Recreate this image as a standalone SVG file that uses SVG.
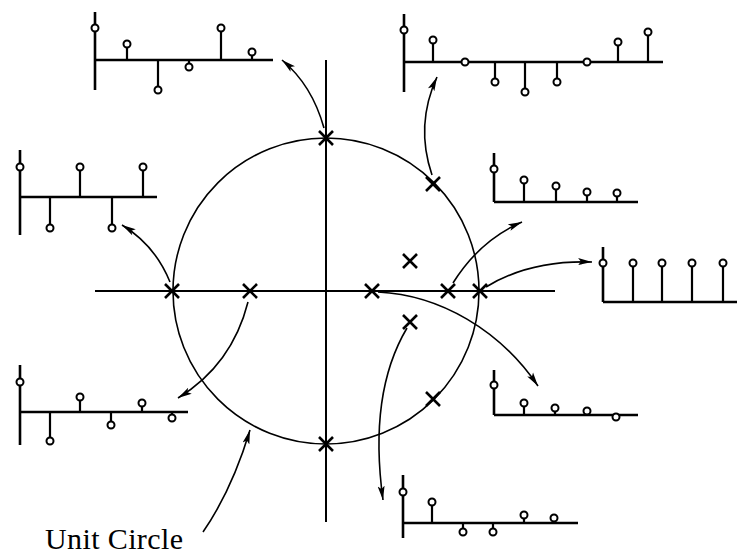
<svg xmlns="http://www.w3.org/2000/svg" xmlns:xlink="http://www.w3.org/1999/xlink" width="737" height="558" viewBox="0 0 737 558">
<style>
.ax{stroke:#000;stroke-width:2.6;fill:none}
.st{stroke:#000;stroke-width:2.2;fill:none}
.pt{fill:#fff;stroke:#000;stroke-width:2}
.main{stroke:#000;stroke-width:2;fill:none}
.uc{stroke:#000;stroke-width:1.6;fill:none}
.cv{stroke:#000;stroke-width:1.6;fill:none;marker-end:url(#ah)}
.x{stroke:#000;stroke-width:2.6;fill:none}
.lbl{font-family:"Liberation Serif","Times New Roman",serif;font-size:30px;fill:#000}
</style>
<defs>
<marker id="ah" markerUnits="userSpaceOnUse" markerWidth="16" markerHeight="10" refX="14" refY="5" orient="auto">
<path d="M0,1.5 L14,5 L0,8.5 L3,5 z" fill="#000"/>
</marker>
<path id="cross" d="M-7,-7 L7,7 M-7,7 L7,-7"/>
</defs>
<rect width="737" height="558" fill="#fff"/>

<g id="z-plane">
<line class="main" x1="95" y1="291" x2="555" y2="291"/>
<line class="main" x1="326" y1="60" x2="326" y2="522"/>
<circle id="unit-circle" class="uc" cx="326" cy="291" r="153"/>
</g>

<g id="poles" class="x">
<use xlink:href="#cross" x="172" y="291"/>
<use xlink:href="#cross" x="250" y="291"/>
<use xlink:href="#cross" x="372" y="291"/>
<use xlink:href="#cross" x="448" y="291"/>
<use xlink:href="#cross" x="480" y="291"/>
<use xlink:href="#cross" x="410" y="261"/>
<use xlink:href="#cross" x="410" y="322"/>
<use xlink:href="#cross" x="326" y="138"/>
<use xlink:href="#cross" x="326" y="444"/>
<use xlink:href="#cross" x="433" y="184"/>
<use xlink:href="#cross" x="433" y="399"/>
</g>

<g id="connectors">
<path class="cv" d="M324,128 Q312,85 282,60"/>
<path class="cv" d="M432,175 Q415,125 437,77"/>
<path class="cv" d="M170,282 Q155,245 122,225"/>
<path class="cv" d="M453,283 Q480,240 522,222"/>
<path class="cv" d="M486,287 Q530,260 592,262"/>
<path class="cv" d="M378,292 C440,295 500,330 538,386"/>
<path class="cv" d="M248,302 Q232,365 178,398"/>
<path class="cv" d="M407,328 C385,365 372,420 383,500"/>
<path class="cv" d="M203,532 Q232,490 250,430"/>
</g>

<g id="plot-top-left">
<line class="ax" x1="95" y1="12" x2="95" y2="90"/>
<line class="ax" x1="95" y1="60" x2="273" y2="60"/>
<path class="st" d="M127,60V44 M158,60V90 M189,60V67 M221,60V28 M252,60V52"/>
<circle class="pt" cx="95" cy="28" r="3.5"/>
<circle class="pt" cx="127" cy="44" r="3.5"/>
<circle class="pt" cx="158" cy="90" r="3.5"/>
<circle class="pt" cx="189" cy="67" r="3.5"/>
<circle class="pt" cx="221" cy="28" r="3.5"/>
<circle class="pt" cx="252" cy="52" r="3.5"/>
</g>

<g id="plot-top-right">
<line class="ax" x1="404" y1="14" x2="404" y2="92"/>
<line class="ax" x1="404" y1="62" x2="663" y2="62"/>
<path class="st" d="M433,62V40 M495,62V82 M525,62V92 M557,62V82 M618,62V42 M648,62V32"/>
<circle class="pt" cx="404" cy="30" r="3.5"/>
<circle class="pt" cx="433" cy="40" r="3.5"/>
<circle class="pt" cx="465" cy="62" r="3.5"/>
<circle class="pt" cx="495" cy="82" r="3.5"/>
<circle class="pt" cx="525" cy="92" r="3.5"/>
<circle class="pt" cx="557" cy="82" r="3.5"/>
<circle class="pt" cx="587" cy="62" r="3.5"/>
<circle class="pt" cx="618" cy="42" r="3.5"/>
<circle class="pt" cx="648" cy="32" r="3.5"/>
</g>

<g id="plot-left-mid">
<line class="ax" x1="20" y1="150" x2="20" y2="235"/>
<line class="ax" x1="20" y1="197" x2="157" y2="197"/>
<path class="st" d="M50,197V228 M80,197V167 M112,197V228 M143,197V167"/>
<circle class="pt" cx="20" cy="167" r="3.5"/>
<circle class="pt" cx="50" cy="228" r="3.5"/>
<circle class="pt" cx="80" cy="167" r="3.5"/>
<circle class="pt" cx="112" cy="228" r="3.5"/>
<circle class="pt" cx="143" cy="167" r="3.5"/>
</g>

<g id="plot-right-upper">
<line class="ax" x1="494" y1="153" x2="494" y2="202"/>
<line class="ax" x1="494" y1="202" x2="638" y2="202"/>
<path class="st" d="M524,202V180 M556,202V186 M587,202V192 M617,202V193"/>
<circle class="pt" cx="494" cy="169" r="3.5"/>
<circle class="pt" cx="524" cy="180" r="3.5"/>
<circle class="pt" cx="556" cy="186" r="3.5"/>
<circle class="pt" cx="587" cy="192" r="3.5"/>
<circle class="pt" cx="617" cy="193" r="3.5"/>
</g>

<g id="plot-right">
<line class="ax" x1="603" y1="247" x2="603" y2="302"/>
<line class="ax" x1="603" y1="302" x2="737" y2="302"/>
<path class="st" d="M633,302V263 M662,302V263 M692,302V263 M723,302V263"/>
<circle class="pt" cx="603" cy="263" r="3.5"/>
<circle class="pt" cx="633" cy="263" r="3.5"/>
<circle class="pt" cx="662" cy="263" r="3.5"/>
<circle class="pt" cx="692" cy="263" r="3.5"/>
<circle class="pt" cx="723" cy="263" r="3.5"/>
</g>

<g id="plot-left-lower">
<line class="ax" x1="20" y1="365" x2="20" y2="445"/>
<line class="ax" x1="20" y1="412" x2="188" y2="412"/>
<path class="st" d="M50,412V441 M80,412V397 M111,412V425 M142,412V403 M172,412V418"/>
<circle class="pt" cx="20" cy="382" r="3.5"/>
<circle class="pt" cx="50" cy="441" r="3.5"/>
<circle class="pt" cx="80" cy="397" r="3.5"/>
<circle class="pt" cx="111" cy="425" r="3.5"/>
<circle class="pt" cx="142" cy="403" r="3.5"/>
<circle class="pt" cx="172" cy="418" r="3.5"/>
</g>

<g id="plot-right-lower">
<line class="ax" x1="494" y1="370" x2="494" y2="415"/>
<line class="ax" x1="494" y1="415" x2="638" y2="415"/>
<path class="st" d="M524,415V403 M555,415V408 M587,415V412"/>
<circle class="pt" cx="494" cy="385" r="3.5"/>
<circle class="pt" cx="524" cy="403" r="3.5"/>
<circle class="pt" cx="555" cy="408" r="3.5"/>
<circle class="pt" cx="587" cy="411" r="3.5"/>
<circle class="pt" cx="616" cy="417" r="3.5"/>
</g>

<g id="plot-bottom">
<line class="ax" x1="403" y1="475" x2="403" y2="538"/>
<line class="ax" x1="403" y1="523" x2="578" y2="523"/>
<path class="st" d="M432,523V502 M463,523V532 M493,523V532 M524,523V515 M554,523V518"/>
<circle class="pt" cx="403" cy="492" r="3.5"/>
<circle class="pt" cx="432" cy="502" r="3.5"/>
<circle class="pt" cx="463" cy="532" r="3.5"/>
<circle class="pt" cx="493" cy="532" r="3.5"/>
<circle class="pt" cx="524" cy="515" r="3.5"/>
<circle class="pt" cx="554" cy="518" r="3.5"/>
</g>

<g id="label-unit-circle">
<text class="lbl" x="45" y="549" textLength="138" lengthAdjust="spacing">Unit Circle</text>
</g>
</svg>
